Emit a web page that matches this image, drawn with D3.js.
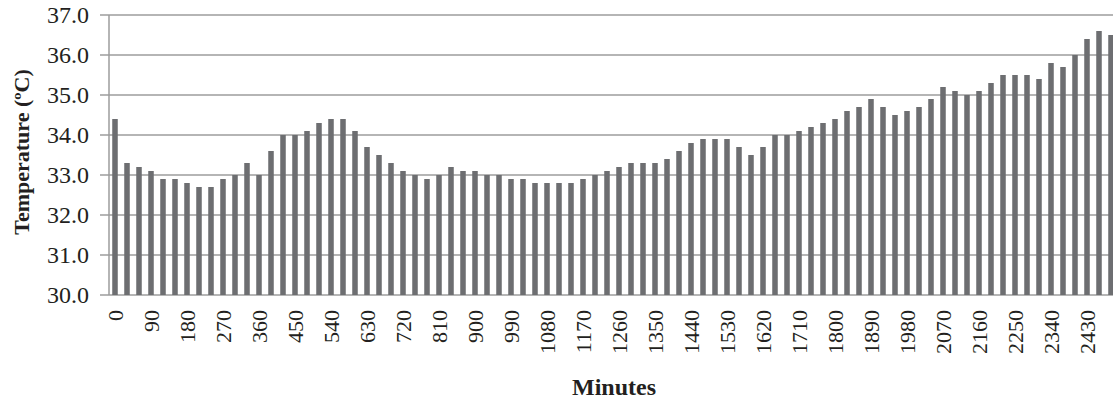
<!DOCTYPE html>
<html>
<head>
<meta charset="utf-8">
<script src="https://cdnjs.cloudflare.com/ajax/libs/d3/7.8.5/d3.min.js"></script>
<style>
  html, body { margin: 0; padding: 0; background: #fff; }
  svg { display: block; }
  text { font-family: "Liberation Serif", "Times New Roman", serif; fill: #231f20; }
</style>
</head>
<body>
<svg id="chart" width="1113" height="401"></svg>
<script>
// temperature readings every 30 minutes
var minutes = [];
for (var m = 0; m <= 2490; m += 30) { minutes.push(m); }

var temps = [
  34.4, 33.3, 33.2, 33.1, 32.9, 32.9, 32.8, 32.7, 32.7, 32.9,
  33.0, 33.3, 33.0, 33.6, 34.0, 34.0, 34.1, 34.3, 34.4, 34.4,
  34.1, 33.7, 33.5, 33.3, 33.1, 33.0, 32.9, 33.0, 33.2, 33.1,
  33.1, 33.0, 33.0, 32.9, 32.9, 32.8, 32.8, 32.8, 32.8, 32.9,
  33.0, 33.1, 33.2, 33.3, 33.3, 33.3, 33.4, 33.6, 33.8, 33.9,
  33.9, 33.9, 33.7, 33.5, 33.7, 34.0, 34.0, 34.1, 34.2, 34.3,
  34.4, 34.6, 34.7, 34.9, 34.7, 34.5, 34.6, 34.7, 34.9, 35.2,
  35.1, 35.0, 35.1, 35.3, 35.5, 35.5, 35.5, 35.4, 35.8, 35.7,
  36.0, 36.4, 36.6, 36.5
];

var yTicks = [30, 31, 32, 33, 34, 35, 36, 37];
var xTickLabels = minutes.filter(function(d) { return d % 90 === 0; });

var plotLeft = 109;
var plotTop = 15;
var plotBottom = 295;
var step = 12;

var svg = d3.select("#chart");

var x = d3.scaleBand()
  .domain(minutes)
  .range([plotLeft, plotLeft + step * minutes.length])
  .paddingInner(0.54)
  .paddingOuter(0.27);

var y = d3.scaleLinear()
  .domain([30, 37])
  .range([plotBottom, plotTop]);

// horizontal grid lines (start a bit left of the axis to form the tick marks)
svg.append("g").attr("class", "grid")
  .selectAll("line").data(yTicks).enter().append("line")
  .attr("x1", plotLeft - 9)
  .attr("x2", 1113)
  .attr("y1", function(d) { return y(d); })
  .attr("y2", function(d) { return y(d); })
  .attr("stroke", "#9d9d9d")
  .attr("stroke-width", 1.5);

// y axis line
svg.append("line")
  .attr("x1", plotLeft).attr("x2", plotLeft)
  .attr("y1", y(37)).attr("y2", y(30))
  .attr("stroke", "#9d9d9d")
  .attr("stroke-width", 1.5);

// bars
svg.append("g").attr("class", "bars")
  .selectAll("rect").data(temps).enter().append("rect")
  .attr("x", function(d, i) { return x(minutes[i]); })
  .attr("width", x.bandwidth())
  .attr("y", function(d) { return y(d); })
  .attr("height", function(d) { return y(30) - y(d); })
  .attr("fill", "#6d6e71");

// y tick labels
svg.append("g").attr("class", "y-labels")
  .selectAll("text").data(yTicks).enter().append("text")
  .attr("x", 89)
  .attr("y", function(d) { return y(d); })
  .attr("dy", "0.35em")
  .attr("text-anchor", "end")
  .attr("font-size", "24px")
  .text(function(d) { return d3.format(".1f")(d); });

// x tick labels, rotated
svg.append("g").attr("class", "x-labels")
  .selectAll("text").data(xTickLabels).enter().append("text")
  .attr("transform", function(d) {
    return "translate(" + (x(d) + x.bandwidth() / 2) + "," + 310 + ") rotate(-90)";
  })
  .attr("dy", "0.35em")
  .attr("text-anchor", "end")
  .attr("font-size", "22px")
  .text(function(d) { return d; });

// axis titles
svg.append("text")
  .attr("transform", "translate(29,152) rotate(-90)")
  .attr("text-anchor", "middle")
  .attr("font-size", "22px")
  .attr("font-weight", "bold")
  .text("Temperature (ºC)");

svg.append("text")
  .attr("x", 614)
  .attr("y", 395)
  .attr("text-anchor", "middle")
  .attr("font-size", "24px")
  .attr("font-weight", "bold")
  .text("Minutes");
</script>
</body>
</html>
